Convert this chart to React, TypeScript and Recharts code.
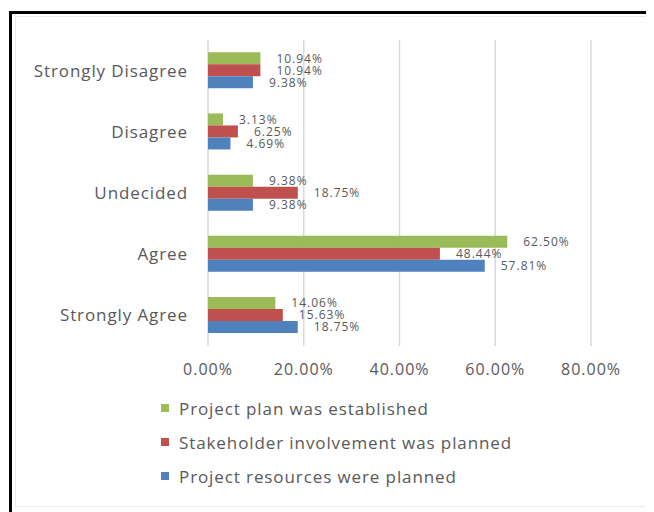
import { BarChart, Bar, XAxis, YAxis, CartesianGrid, LabelList } from "recharts";

const categories = ["Strongly Disagree", "Disagree", "Undecided", "Agree", "Strongly Agree"];
const planEstablished = [10.94, 3.13, 9.38, 62.5, 14.06];
const stakeholderPlanned = [10.94, 6.25, 18.75, 48.44, 15.63];
const resourcesPlanned = [9.38, 4.69, 9.38, 57.81, 18.75];
const xTicks = [0, 20, 40, 60, 80];

const series = [
  { key: "plan", name: "Project plan was established", color: "#9BBB59" },
  { key: "stake", name: "Stakeholder involvement was planned", color: "#C0504D" },
  { key: "res", name: "Project resources were planned", color: "#4F81BD" },
];

const chartData = categories.map((c, i) => ({
  category: c,
  plan: planEstablished[i],
  stake: stakeholderPlanned[i],
  res: resourcesPlanned[i],
}));

const font = "'Open Sans', sans-serif";
const textColor = "#595959";
const pct = (v: number) => `${Number(v).toFixed(2)}%`;

export default function App() {
  return (
    <div style={{ position: "relative", width: 646, height: 504, fontFamily: font, background: "#fff" }}>
      {/* outer frame, only top and left edges are visible */}
      <div
        style={{
          position: "absolute",
          left: 1,
          top: 3,
          right: -8,
          bottom: -8,
          borderLeft: "3px solid #000",
          borderTop: "3px solid #000",
        }}
      />
      <div
        style={{
          position: "absolute",
          left: 7,
          top: 8,
          width: 630,
          height: 489,
          border: "1px solid #ececec",
        }}
      />
      <div style={{ position: "absolute", left: 0, top: 0 }}>
        <BarChart
          width={646}
          height={504}
          data={chartData}
          layout="vertical"
          margin={{ top: 32, right: 63, left: 0, bottom: 126 }}
          barCategoryGap="20%"
          barGap={0}
        >
          <CartesianGrid horizontal={false} stroke="#d9d9d9" strokeWidth={1.5} />
          <XAxis
            type="number"
            domain={[0, 80]}
            ticks={xTicks}
            tickFormatter={pct}
            axisLine={false}
            tickLine={false}
            tickMargin={12}
            height={40}
            tick={{ fill: textColor, fontSize: 16, fontFamily: font, letterSpacing: 1 }}
          />
          <YAxis
            type="category"
            dataKey="category"
            width={200}
            axisLine={false}
            tickLine={false}
            tickMargin={14}
            tick={{ fill: textColor, fontSize: 17, fontFamily: font, letterSpacing: 0.9 }}
          />
          {series.map((s) => (
            <Bar key={s.key} dataKey={s.key} name={s.name} fill={s.color} isAnimationActive={false}>
              <LabelList
                dataKey={s.key}
                position="right"
                offset={16}
                formatter={pct}
                style={{ fill: textColor, fontSize: 12, fontFamily: font, letterSpacing: 1 }}
              />
            </Bar>
          ))}
        </BarChart>
      </div>
      <div style={{ position: "absolute", left: 153, top: 383 }}>
        {series.map((s) => (
          <div key={s.key} style={{ display: "flex", alignItems: "center", height: 34 }}>
            <span style={{ width: 8, height: 8, background: s.color, marginRight: 10 }} />
            <span style={{ color: textColor, fontSize: 17, letterSpacing: 0.9 }}>{s.name}</span>
          </div>
        ))}
      </div>
    </div>
  );
}
